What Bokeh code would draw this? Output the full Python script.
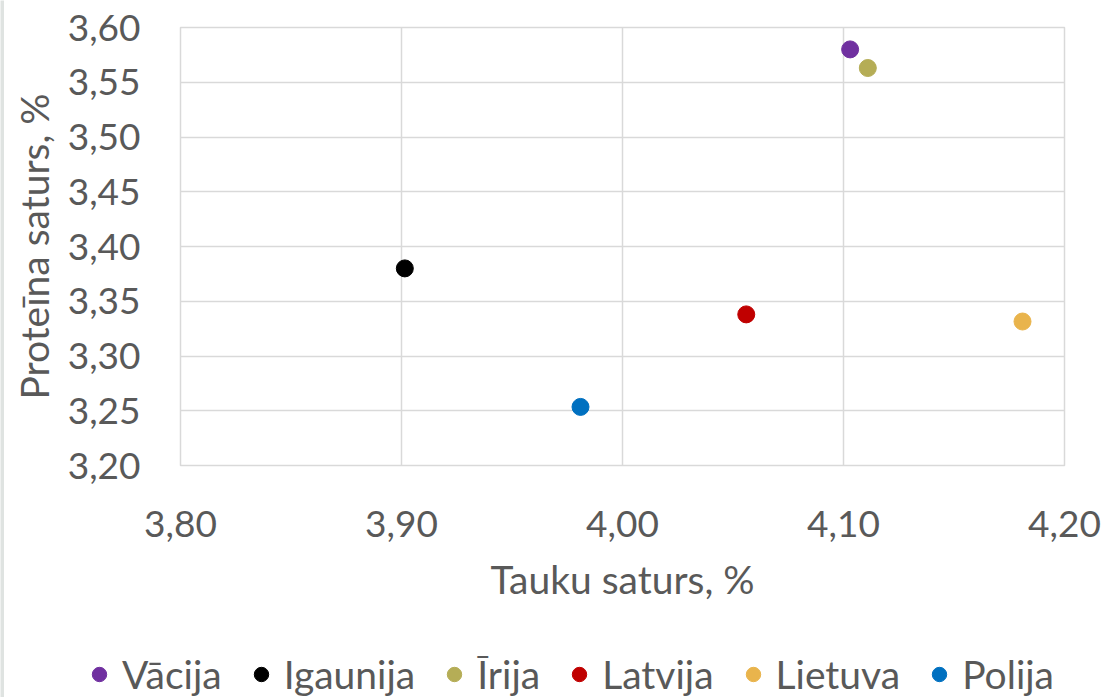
from bokeh.plotting import figure
from bokeh.models import ColumnDataSource, FixedTicker, CustomJSTickFormatter, Legend, LegendItem
from bokeh.layouts import column, row
from bokeh.embed import file_html
from bokeh.resources import INLINE

countries = ["Vācija", "Igaunija", "Īrija", "Latvija", "Lietuva", "Polija"]
fat = [4.103, 3.9015, 4.111, 4.056, 4.181, 3.981]
protein = [3.580, 3.380, 3.563, 3.338, 3.3315, 3.2535]
colors = ["#7030a0", "#000000", "#b5ad56", "#c00000", "#e9b44c", "#0070c0"]
x_ticks = [3.80, 3.90, 4.00, 4.10, 4.20]
y_ticks = [3.20, 3.25, 3.30, 3.35, 3.40, 3.45, 3.50, 3.55, 3.60]

FONT = "Lato"
TXT = "#595959"
GRID = "#d9d9d9"
SW = 4
W = 1102
H1 = 640
H2 = 57

p = figure(width=W, height=H1, output_backend="svg", toolbar_location=None,
           x_range=(3.80, 4.20), y_range=(3.20, 3.60),
           min_border_left=176, min_border_right=W - 176 - 884, min_border_top=27,
           min_border_bottom=H1 - 27 - 438)
p.outline_line_color = GRID
p.outline_line_width = 1.5
p.background_fill_color = "white"
p.border_fill_color = "white"

for xv, yv, c in zip(fat, protein, colors):
    src = ColumnDataSource(dict(x=[xv], y=[yv]))
    p.scatter("x", "y", source=src, size=17, fill_color=c, line_color=c)

fmt = CustomJSTickFormatter(code="return tick.toFixed(2).replace('.', ',');")

for ax in (p.xaxis[0], p.yaxis[0]):
    ax.formatter = fmt
    ax.axis_line_color = None
    ax.major_tick_line_color = None
    ax.minor_tick_line_color = None
    ax.major_label_text_font = FONT
    ax.major_label_text_font_size = "37px"
    ax.major_label_text_color = TXT
    ax.axis_label_text_font = FONT
    ax.axis_label_text_font_size = "39px"
    ax.axis_label_text_color = TXT
    ax.axis_label_text_font_style = "normal"

p.xaxis[0].ticker = FixedTicker(ticks=x_ticks)
p.yaxis[0].ticker = FixedTicker(ticks=y_ticks)
p.xaxis[0].axis_label = "Tauku saturs, %"
p.yaxis[0].axis_label = "Proteīna saturs, %"
p.xaxis[0].major_label_standoff = 39
p.xaxis[0].axis_label_standoff = 16
p.yaxis[0].major_label_standoff = 34
p.yaxis[0].axis_label_standoff = 8

p.xgrid[0].ticker = FixedTicker(ticks=x_ticks)
p.ygrid[0].ticker = FixedTicker(ticks=y_ticks)
for g in (p.xgrid[0], p.ygrid[0]):
    g.grid_line_color = GRID
    g.grid_line_width = 1.5

# legend strip below the chart (its own markers fall outside its ranges)
lf = figure(width=W, height=H2, output_backend="svg", toolbar_location=None,
            x_range=(0, 1), y_range=(0, 1),
            min_border_left=0, min_border_right=0, min_border_top=0, min_border_bottom=0,
            x_axis_type=None, y_axis_type=None)
lf.grid.visible = False
lf.outline_line_color = None
lf.background_fill_color = "white"
lf.border_fill_color = "white"

items = []
for name, xv, yv, c in zip(countries, fat, protein, colors):
    src = ColumnDataSource(dict(x=[xv], y=[yv]))
    r = lf.scatter("x", "y", source=src, size=17, fill_color=c, line_color=c)
    items.append(LegendItem(label=name, renderers=[r]))

legend = Legend(items=items, orientation="horizontal", location=(77, 0),
                glyph_width=36, glyph_height=36, label_standoff=5, spacing=21,
                padding=0, margin=0, border_line_color=None, background_fill_alpha=0,
                label_text_font=FONT, label_text_font_size="39px", label_text_color=TXT)
lf.add_layout(legend, "center")

# thin grey strip at the left edge, as in the reference
strip = figure(width=SW, height=H1 + H2, output_backend="svg", toolbar_location=None,
               min_border_left=0, min_border_right=0, min_border_top=0, min_border_bottom=0,
               x_axis_type=None, y_axis_type=None)
strip.grid.visible = False
strip.outline_line_color = None
strip.background_fill_color = "#dfe3e1"
strip.border_fill_color = "#dfe3e1"

layout = row(column(strip), column(column(p), column(lf), spacing=0), spacing=0)
open("out.html", "w").write(file_html(layout, INLINE))
